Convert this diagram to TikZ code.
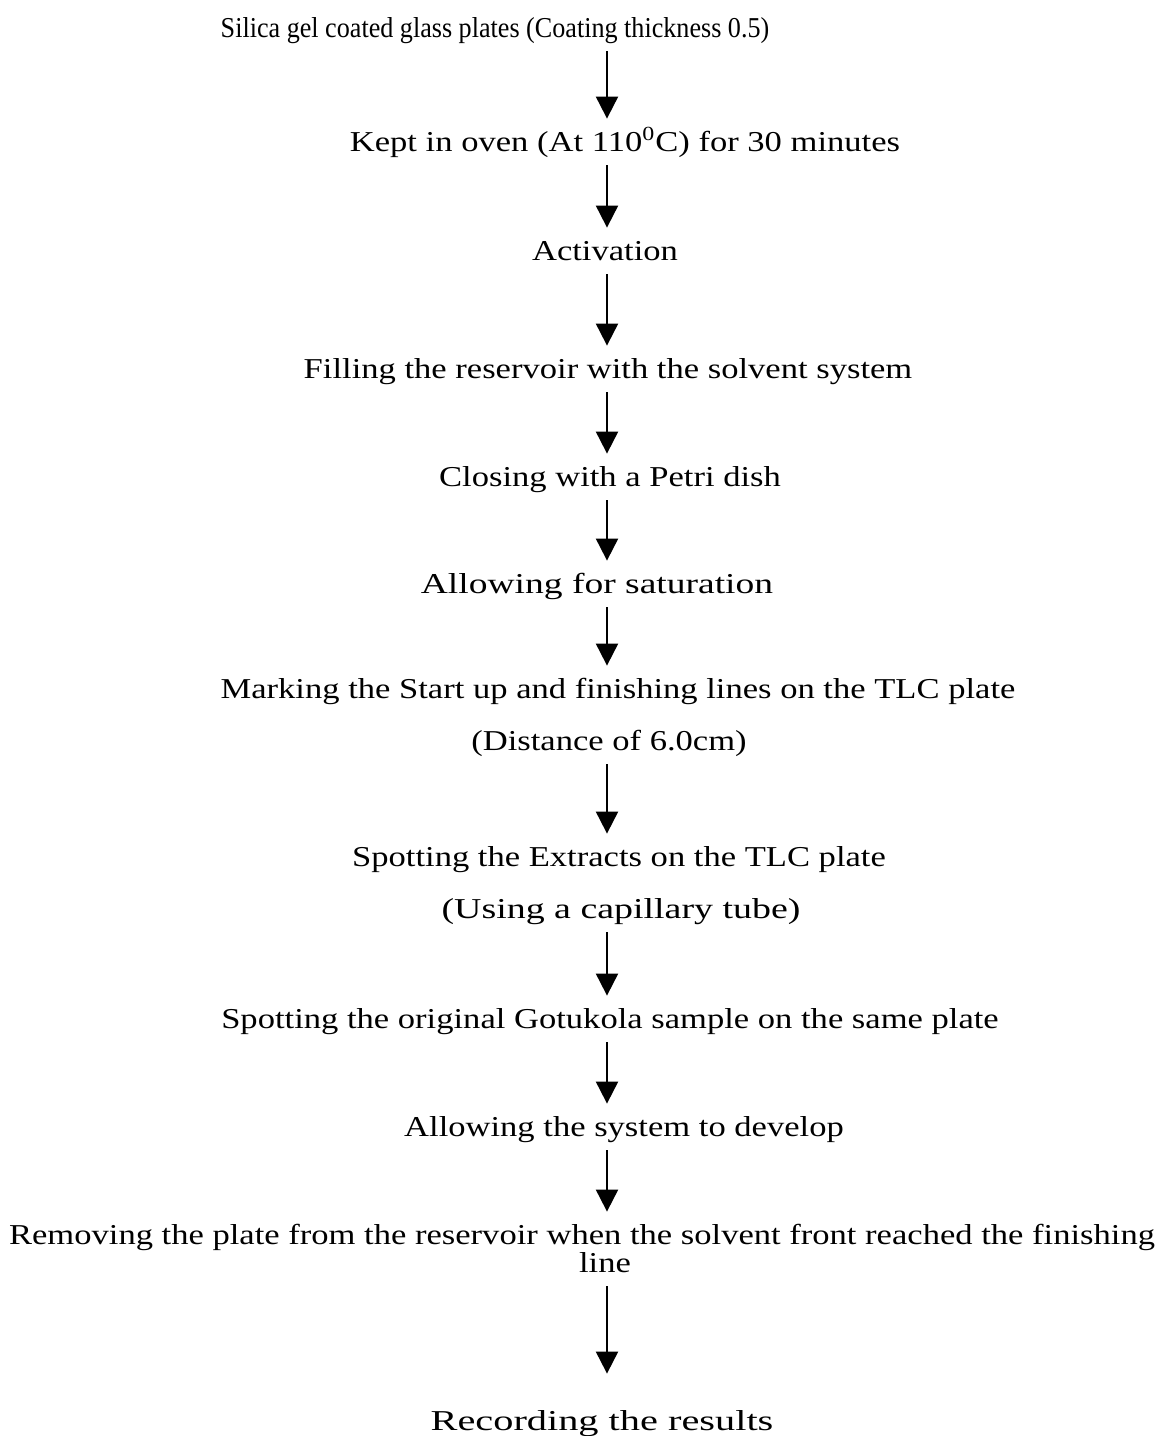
\documentclass[tikz,border=0pt]{standalone}
\usepackage{fontspec}
\setmainfont{Liberation Serif}[FakeStretch=1.2]
\usepackage{tikz}
\usetikzlibrary{arrows.meta}

\begin{document}
\begin{tikzpicture}[x=0.5pt,y=-0.5pt,
    stepline/.style={anchor=base,inner sep=0pt,text height=9.5pt,text depth=3pt,
      font=\fontsize{14.4}{16}\selectfont},
    flow/.style={-{Triangle[width=11pt,length=11pt]},line width=1pt,
      shorten <=4pt,shorten >=6.5pt}]
   \useasboundingbox (0,0) rectangle (1165,1436);
   \coordinate (ax) at (607,0);
   \node[stepline] (silica)  at (495,37)   {\scalebox{0.756}[1]{Silica gel coated glass plates (Coating thickness 0.5)}};
   \node[stepline] (oven)    at (625,151)  {Kept in oven (At 110\textsuperscript{0}C) for 30 minutes};
   \node[stepline] (act)     at (605,260)  {Activation};
   \node[stepline] (fill)    at (608,378)  {Filling the reservoir with the solvent system};
   \node[stepline] (close)   at (610,486)  {Closing with a Petri dish};
   \node[stepline] (sat)     at (597,593)  {\scalebox{1.086}[1]{Allowing for saturation}};
   \node[stepline] (mark)    at (618,698)  {Marking the Start up and finishing lines on the TLC plate};
   \node[stepline] (dist)    at (609,750)  {(Distance of 6.0cm)};
   \node[stepline] (spotext) at (619,866)  {Spotting the Extracts on the TLC plate};
   \node[stepline] (capil)   at (621,918)  {\scalebox{1.097}[1]{(Using a capillary tube)}};
   \node[stepline] (spotgot) at (610,1028) {Spotting the original Gotukola sample on the same plate};
   \node[stepline] (dev)     at (624,1136) {Allowing the system to develop};
   \node[stepline] (remove)  at (582,1244) {Removing the plate from the reservoir when the solvent front reached the finishing};
   \node[stepline] (line)    at (605,1272) {line};
   \node[stepline] (record)  at (602,1430) {\scalebox{1.167}[1]{Recording the results}};
    \draw[flow] (silica.south -| ax) -- (oven.north -| ax);
    \draw[flow] (oven.south -| ax) -- (act.north -| ax);
    \draw[flow] (act.south -| ax) -- (fill.north -| ax);
    \draw[flow] (fill.south -| ax) -- (close.north -| ax);
    \draw[flow] (close.south -| ax) -- (sat.north -| ax);
    \draw[flow] (sat.south -| ax) -- (mark.north -| ax);
    \draw[flow] (dist.south -| ax) -- (spotext.north -| ax);
    \draw[flow] (capil.south -| ax) -- (spotgot.north -| ax);
    \draw[flow] (spotgot.south -| ax) -- (dev.north -| ax);
    \draw[flow] (dev.south -| ax) -- (remove.north -| ax);
    \draw[flow,shorten >=18.5pt] (line.south -| ax) -- (record.north -| ax);
\end{tikzpicture}
\end{document}
